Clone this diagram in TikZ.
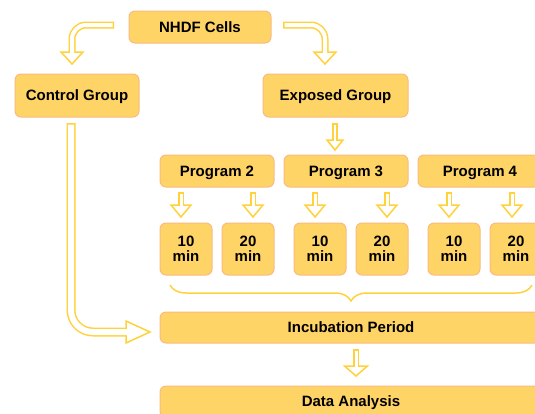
\documentclass[tikz,border=0pt]{standalone}
\usepackage{fontspec}
\setmainfont{Liberation Sans}
\usetikzlibrary{decorations.pathreplacing}
\definecolor{boxfill}{HTML}{FFD466}
\definecolor{boxline}{HTML}{F8BA80}
\definecolor{arrc}{HTML}{FFD23C}
\tikzset{
  box/.style={draw=boxline, line width=1pt, fill=boxfill, rounded corners=6pt,
    font=\bfseries\fontsize{15}{15}\selectfont, align=center, inner sep=0pt},
  onebox/.style={box, text height=13.3pt, text depth=2.5pt},
  headtip/.style={draw=arrc, fill=white, line width=1.5pt, line join=miter},
  shaftout/.style={draw=arrc, line width=#1, line join=round},
  shaftin/.style={draw=white, line width=#1, line join=round},
  bracestyle/.style={draw=arrc, line width=1.5pt, decorate,
    decoration={brace, mirror, amplitude=16pt}}
}
% vertical block arrow: x, top, head base, tip, outer width, inner width, head half width
\newcommand\blkdown[7]{%
  \draw[headtip] (#1-#7,#3) -- (#1+#7,#3) -- (#1,#4) -- cycle;
  \draw[shaftout=#5] (#1,#2) -- (#1,#3);
  \draw[shaftin=#6] (#1,#2+1.5) -- (#1,#3+1.5);
}
\begin{document}
\begin{tikzpicture}[x=1pt, y=-1pt]
\useasboundingbox (0,0) rectangle (535,413);
\clip (0,0) rectangle (535,413);

% nodes
\node[onebox, minimum width=142pt, minimum height=32pt] (nhdf) at (200,27) {NHDF Cells};
\node[onebox, minimum width=124pt, minimum height=43pt] (ctrl) at (77,95.5) {Control Group};
\node[onebox, minimum width=145pt, minimum height=43pt] (expo) at (335.5,95.5) {Exposed Group};
\node[onebox, minimum width=114pt, minimum height=32pt] (p2) at (217,171) {Program 2};
\node[onebox, minimum width=124pt, minimum height=32pt] (p3) at (346,171) {Program 3};
\node[onebox, minimum width=124pt, minimum height=32pt] (p4) at (480,171) {Program 4};
\node[box, minimum width=52pt, minimum height=52pt] (m1) at (186,249) {10\\min};
\node[box, minimum width=52pt, minimum height=52pt] (m2) at (248,249) {20\\min};
\node[box, minimum width=52pt, minimum height=52pt] (m3) at (320,249) {10\\min};
\node[box, minimum width=52pt, minimum height=52pt] (m4) at (382,249) {20\\min};
\node[box, minimum width=52pt, minimum height=52pt] (m5) at (454,249) {10\\min};
\node[box, minimum width=52pt, minimum height=52pt] (m6) at (516,249) {20\\min};
\node[onebox, minimum width=382pt, minimum height=31pt] (inc) at (351,327.5) {Incubation Period};
\node[onebox, minimum width=382pt, minimum height=31pt] (data) at (351,401.5) {Data Analysis};

% NHDF -> Control (curved)
\draw[headtip] (61,52) -- (83,52) -- (72,64) -- cycle;
\draw[shaftout=7pt, rounded corners=14pt] (114,25) -- (72,25) -- (72,52);
\draw[shaftin=4pt, rounded corners=14pt] (112.5,25) -- (72,25) -- (72,53.5);

% NHDF -> Exposed (curved)
\draw[headtip] (314,52) -- (336,52) -- (325,64) -- cycle;
\draw[shaftout=7pt, rounded corners=14pt] (283,25) -- (325,25) -- (325,52);
\draw[shaftin=4pt, rounded corners=14pt] (284.5,25) -- (325,25) -- (325,53.5);

% Exposed -> Program 3
\blkdown{335}{123}{140}{150}{5.5pt}{2.5pt}{8}

% Programs -> durations
\blkdown{181}{192}{205}{217}{6pt}{3pt}{10}
\blkdown{253}{192}{205}{217}{6pt}{3pt}{10}
\blkdown{315}{192}{205}{217}{6pt}{3pt}{10}
\blkdown{387}{192}{205}{217}{6pt}{3pt}{10}
\blkdown{449}{192}{205}{217}{6pt}{3pt}{10}
\blkdown{512}{192}{205}{217}{6pt}{3pt}{10}

% brace
\draw[bracestyle] (170,285) -- (532,285);

% Control -> Incubation
\draw[headtip] (126,321) -- (126,343) -- (150,332) -- cycle;
\draw[shaftout=9pt, rounded corners=22pt] (71,123) -- (71,332) -- (126,332);
\draw[shaftin=6pt, rounded corners=22pt] (71,124.5) -- (71,332) -- (127.5,332);

% Incubation -> Data
\blkdown{356}{349}{366}{376}{6pt}{3pt}{11.5}
\end{tikzpicture}
\end{document}
